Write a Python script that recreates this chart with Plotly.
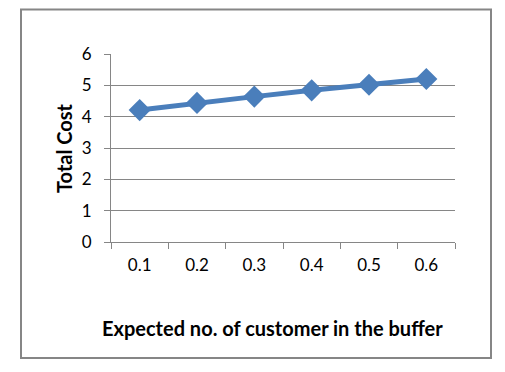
import plotly.graph_objects as go

categories = ["0.1", "0.2", "0.3", "0.4", "0.5", "0.6"]
total_cost = [4.21, 4.44, 4.64, 4.84, 5.02, 5.2]
y_ticks = [0, 1, 2, 3, 4, 5, 6]

# page has an 8px body margin; work in figure coordinates = page - 8
OFF = 8
W, H = 497, 364
L, T = 111 - OFF, 54 - OFF
R = W - (455 - OFF)
B = H - (242 - OFF)
pw, ph = W - L - R, H - T - B

def px_x(x):
    return (x - OFF - L) / pw

def px_y(y):
    return (H - B - (y - OFF)) / ph

FONT = "Lato, Carlito, Calibri, sans-serif"

fig = go.Figure()
fig.add_trace(go.Scatter(
    x=categories, y=total_cost, mode="lines+markers",
    line=dict(color="#4a7ebb", width=5),
    marker=dict(symbol="diamond", size=17, color="#4a7ebb"),
    showlegend=False,
))

fig.update_layout(
    width=W, height=H,
    margin=dict(l=L, r=R, t=T, b=B),
    paper_bgcolor="white", plot_bgcolor="white",
    font=dict(family=FONT, size=17, color="black"),
    xaxis=dict(
        type="category", tickson="boundaries", ticks="outside", ticklen=6,
        tickcolor="#868686", showline=True, linecolor="#868686", linewidth=1,
        showgrid=False, tickfont=dict(size=17), range=[-0.5, 5.5],
        ticklabelstandoff=8,
    ),
    yaxis=dict(
        range=[0, 6], tickvals=y_ticks, ticks="outside", ticklen=6,
        tickcolor="#868686", showline=True, linecolor="#868686", linewidth=1,
        showgrid=True, gridcolor="#868686", gridwidth=1, zeroline=False,
        tickfont=dict(size=17), ticklabelstandoff=9,
    ),
    shapes=[dict(
        type="rect", xref="paper", yref="paper",
        x0=px_x(21), x1=px_x(491), y0=px_y(358), y1=px_y(9.5),
        line=dict(color="#868686", width=2), fillcolor="rgba(0,0,0,0)",
    )],
    annotations=[
        dict(text="<b>Expected no. of customer in the buffer</b>",
             xref="paper", yref="paper", x=px_x(272.5), y=px_y(328),
             xanchor="center", yanchor="middle", showarrow=False,
             font=dict(size=20, family=FONT)),
        dict(text="<b>Total Cost</b>", textangle=-90,
             xref="paper", yref="paper", x=px_x(64), y=px_y(148),
             xanchor="center", yanchor="middle", showarrow=False,
             font=dict(size=20, family=FONT)),
    ],
)

fig.write_html("out.html")
